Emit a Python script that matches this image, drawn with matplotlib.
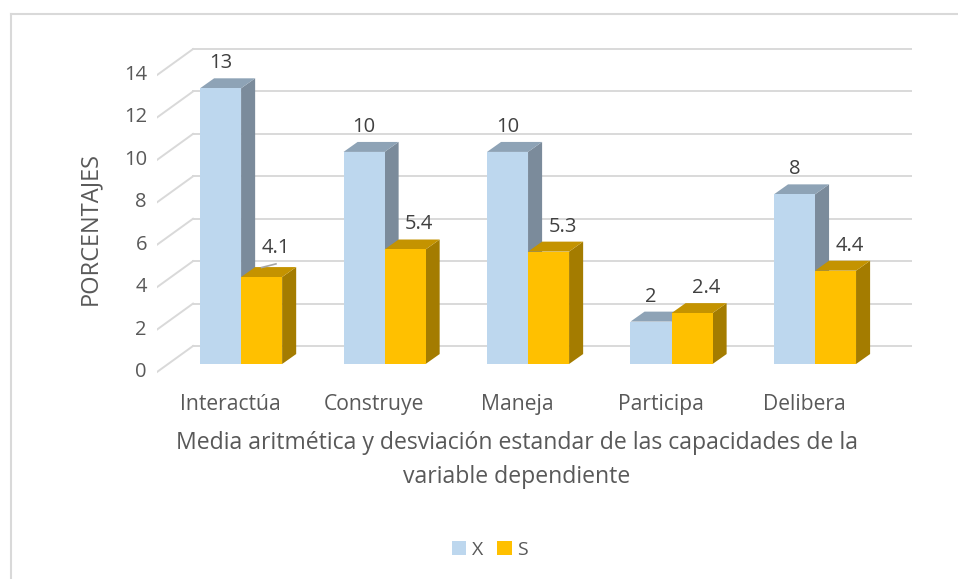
import matplotlib.pyplot as plt
from matplotlib.patches import Polygon
from matplotlib.lines import Line2D

plt.rcParams['font.family'] = ['Open Sans', 'DejaVu Sans']

categories = ['Interactúa', 'Construye', 'Maneja', 'Participa', 'Delibera']
media = [13, 10, 10, 2, 8]
desviacion = [4.1, 5.4, 5.3, 2.4, 4.4]
labels_x = ['13', '10', '10', '2', '8']
labels_s = ['4.1', '5.4', '5.3', '2.4', '4.4']
yticks = [0, 2, 4, 6, 8, 10, 12, 14]

text_color = '#595959'
grid_color = '#D9D9D9'
# front, top, side colours for each series
colors_x = ('#BDD7EE', '#8EA3B6', '#7B8B9B')
colors_s = ('#FFC000', '#C49300', '#A47C00')

# pseudo 3D geometry (data units)
wall_dx, wall_dy = 0.251, 1.226     # back wall offset
bar_dx, bar_dy = 0.077, 0.377       # bars plane offset
depth_dx, depth_dy = 0.098, 0.47    # bar depth
bar_w = 0.286

fig = plt.figure(figsize=(9.58, 5.79), dpi=100)
ax = fig.add_axes([157 / 958, 199 / 579, 755 / 958, 350 / 579])
ax.set_xlim(-0.509, 4.753)
ax.set_ylim(-0.377, 16.125)
ax.axis('off')

# chart border (top and left visible)
fig.add_artist(Line2D([11 / 958, 11 / 958], [0, 1 - 14 / 579], color=grid_color, lw=1.5))
fig.add_artist(Line2D([11 / 958, 1], [1 - 14 / 579, 1 - 14 / 579], color=grid_color, lw=1.5))

x_left = -0.509
x_right = 4.753
for t in yticks:
    ax.plot([x_left, x_left + wall_dx], [t, t + wall_dy], color=grid_color, lw=1.4, zorder=1)
    ax.plot([x_left + wall_dx, x_right], [t + wall_dy, t + wall_dy], color=grid_color, lw=1.4, zorder=1)
    ax.text(x_left - 0.07, t, str(t), ha='right', va='center', fontsize=14.5, color=text_color)


def draw_bar(x0, v, cols):
    y0 = bar_dy
    y1 = bar_dy + v
    x1 = x0 + bar_w
    front = Polygon([(x0, y0), (x1, y0), (x1, y1), (x0, y1)], closed=True, fc=cols[0], ec='none', zorder=3)
    top = Polygon([(x0, y1), (x1, y1), (x1 + depth_dx, y1 + depth_dy), (x0 + depth_dx, y1 + depth_dy)],
                  closed=True, fc=cols[1], ec='none', zorder=3)
    side = Polygon([(x1, y0), (x1 + depth_dx, y0 + depth_dy), (x1 + depth_dx, y1 + depth_dy), (x1, y1)],
                   closed=True, fc=cols[2], ec='none', zorder=3)
    for p in (side, top, front):
        ax.add_patch(p)


for i, cat in enumerate(categories):
    cx = i + bar_dx
    draw_bar(cx - bar_w, media[i], colors_x)
    draw_bar(cx, desviacion[i], colors_s)
    ax.text(cx - bar_w / 2, bar_dy + media[i] + 1.18, labels_x[i], ha='center', va='center',
            fontsize=14.5, color='#404040', zorder=5)
    lift = 1.37 if i == 0 else 1.18
    ax.text(cx + bar_w / 2 + 0.1, bar_dy + desviacion[i] + lift, labels_s[i], ha='center', va='center',
            fontsize=14.5, color='#404040', zorder=5)
    if i == 0:
        ax.plot([cx + bar_w / 2, cx + bar_w / 2 + 0.1],
                [bar_dy + desviacion[i] + 0.45, bar_dy + desviacion[i] + 0.62],
                color='#A6A6A6', lw=1.2, zorder=5)
    ax.text(i, -1.55, cat, ha='center', va='center', fontsize=15.2, color=text_color)

fig.text(90 / 958, 1 - 228 / 579, 'PORCENTAJES', rotation=90, ha='center', va='center',
         fontsize=17, color=text_color)
fig.text(517 / 958, 1 - 460 / 579,
         'Media aritmética y desviación estandar de las capacidades de la\nvariable dependiente',
         ha='center', va='center', fontsize=16.6, color=text_color, linespacing=1.55)

handles = [Polygon([[0, 0]], fc=colors_x[0], ec='none', label='X'),
           Polygon([[0, 0]], fc=colors_s[0], ec='none', label='S')]
fig.legend(handles=handles, loc='center', bbox_to_anchor=(490 / 958, 1 - 550 / 579), ncol=2,
           frameon=False, fontsize=14, labelcolor=text_color, handlelength=0.75, handleheight=0.75,
           handletextpad=0.3, columnspacing=0.7)

fig.savefig('out.png', dpi=100)
